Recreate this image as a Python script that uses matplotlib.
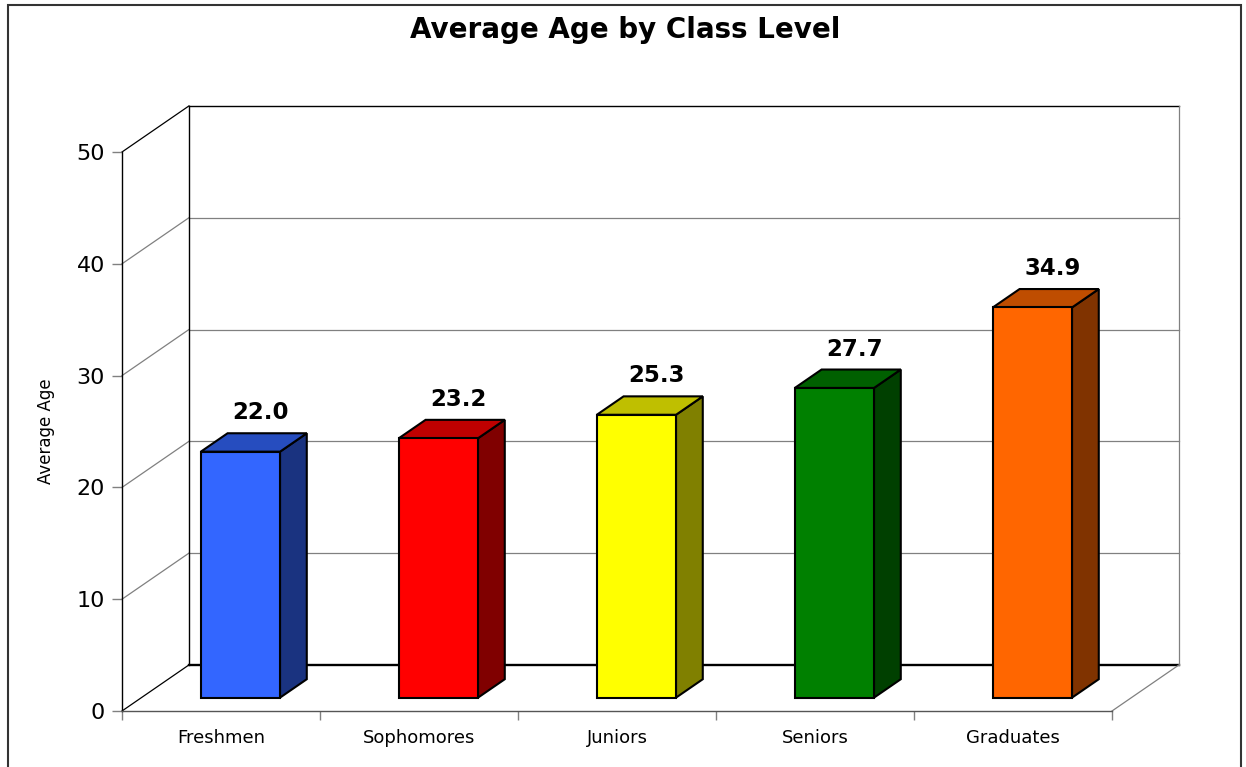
import matplotlib
matplotlib.use("Agg")
import matplotlib.pyplot as plt
from matplotlib.patches import Rectangle, Polygon
import numpy as np

# ---- data ----
categories = ["Freshmen", "Sophomores", "Juniors", "Seniors", "Graduates"]
avg_age = [22.0, 23.2, 25.3, 27.7, 34.9]
value_labels = ["22.0", "23.2", "25.3", "27.7", "34.9"]
y_ticks = [0, 10, 20, 30, 40, 50]
front_colors = ["#3366FF", "#FF0000", "#FFFF00", "#008000", "#FF6600"]

plt.rcParams['font.family'] = ['DejaVu Sans']

W, H = 1246, 767
fig = plt.figure(figsize=(W / 100, H / 100), dpi=100)
ax = fig.add_axes([122 / W, (H - 711) / H, 990 / W, 559 / H])
ax.set_xlim(0, len(categories))
ax.set_ylim(0, 50)

# 3D depth offset in data units
DX = 0.338
DY = 4.12
f1, f2 = 0.29, 0.69   # bar front/back depth fraction
bw = 0.4              # bar width (category units)

n = len(categories)
grid_col = "#808080"

# back wall gridlines + left wall diagonals
for v in y_ticks:
    col = "black" if v in (0, 50) else grid_col
    lw = 1.7 if v == 0 else (1.0 if v == 50 else 0.9)
    ax.plot([DX, n + DX], [v + DY, v + DY], color=col, lw=lw, clip_on=False, zorder=1)
    ax.plot([0, DX], [v, v + DY], color="black" if v in (0, 50) else grid_col,
            lw=0.9, clip_on=False, zorder=1)
# wall verticals
ax.plot([DX, DX], [DY, 50 + DY], color="black", lw=1.0, clip_on=False, zorder=1)
ax.plot([n + DX, n + DX], [DY, 50 + DY], color=grid_col, lw=0.9, clip_on=False, zorder=1)
# floor right edge
ax.plot([n, n + DX], [0, DY], color=grid_col, lw=0.9, clip_on=False, zorder=1)

# bars
for i, (v, c) in enumerate(zip(avg_age, front_colors)):
    base = np.array(matplotlib.colors.to_rgb(c))
    top_c = base * 0.75
    side_c = base * 0.5
    x0 = i + (1 - bw) / 2 + DX * f1
    x1 = x0 + bw
    y0 = DY * f1
    y1 = v + DY * f1
    ddx = DX * (f2 - f1)
    ddy = DY * (f2 - f1)
    kw = dict(edgecolor="black", lw=1.5, joinstyle="miter", clip_on=False, zorder=3)
    ax.add_patch(Polygon([(x1, y0), (x1 + ddx, y0 + ddy), (x1 + ddx, y1 + ddy), (x1, y1)],
                         closed=True, facecolor=side_c, **kw))
    ax.add_patch(Polygon([(x0, y1), (x1, y1), (x1 + ddx, y1 + ddy), (x0 + ddx, y1 + ddy)],
                         closed=True, facecolor=top_c, **kw))
    ax.add_patch(Rectangle((x0, y0), bw, v, facecolor=c, **kw))
    ax.annotate(value_labels[i], xy=(i + 0.5 + DX * (f1 + 0.3), v + DY * f2),
                xytext=(0, 10), textcoords="offset points", ha="center", va="baseline",
                fontsize=16.5, fontweight="bold", annotation_clip=False, zorder=4)

# axes styling
for s in ("top", "right"):
    ax.spines[s].set_visible(False)
ax.spines["left"].set_color("black")
ax.spines["left"].set_linewidth(1.0)
ax.spines["bottom"].set_color("#555555")
ax.spines["bottom"].set_linewidth(1.0)
ax.set_facecolor("none")

ax.set_yticks(y_ticks)
ax.set_yticklabels([str(t) for t in y_ticks])
ax.tick_params(axis="y", direction="out", length=7.2, width=1, color=grid_col,
               labelsize=16, pad=5)
ax.set_xticks(np.arange(n + 1))
ax.set_xticklabels([])
ax.tick_params(axis="x", which="major", direction="out", length=6.5, width=1, color=grid_col)
ax.set_xticks(np.arange(n) + 0.5, minor=True)
ax.set_xticklabels(categories, minor=True)
ax.tick_params(axis="x", which="minor", length=0, labelsize=13, pad=13)

ax.set_ylabel("Average Age", fontsize=12)
ax.yaxis.set_label_coords(-0.068, 0.5)

fig.text(0.502, (H - 38) / H, "Average Age by Class Level", ha="center", va="baseline",
         fontsize=20, fontweight="bold")

# outer frame
fig.patches.append(Rectangle((7.5 / W, -0.02), (1241 - 7.5) / W, (H - 4.5) / H + 0.02,
                             transform=fig.transFigure, fill=False,
                             edgecolor="#333333", lw=1.5))

fig.savefig("out.png", dpi=100, facecolor="white")
